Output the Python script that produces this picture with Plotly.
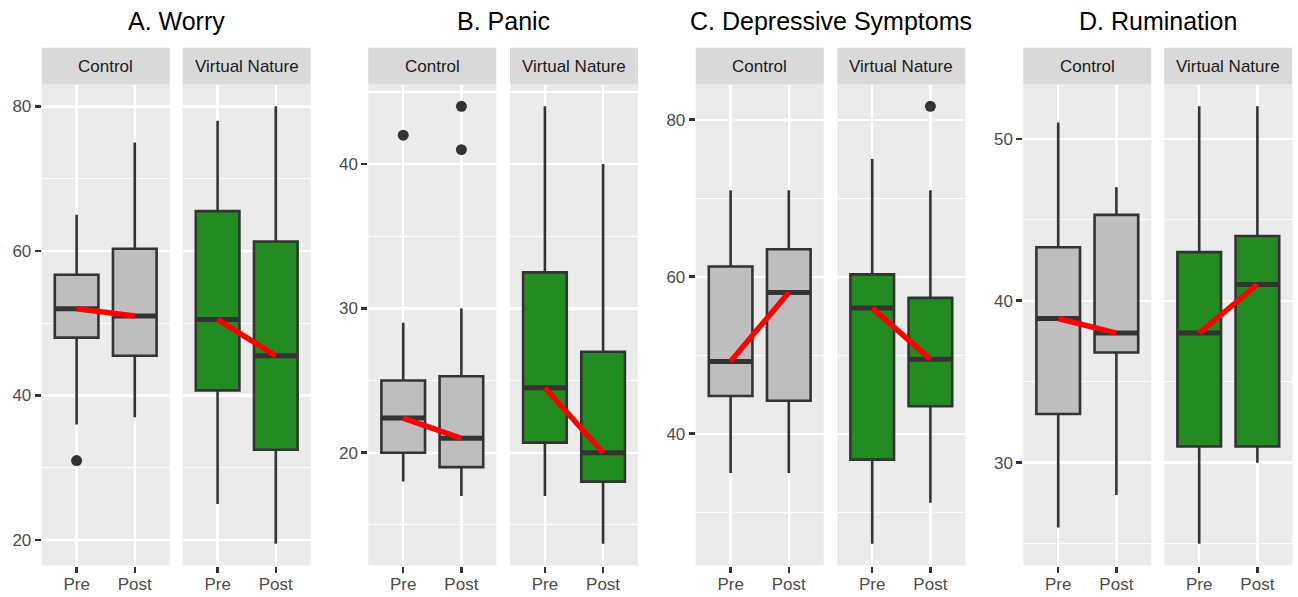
import plotly.graph_objects as go

# ---------------- data ----------------
panel_titles = ["A. Worry", "B. Panic", "C. Depressive Symptoms", "D. Rumination"]
groups = ["Control", "Virtual Nature"]
times = ["Pre", "Post"]

# per panel, per group: [Pre, Post]
worry_lower = {"Control": [36, 37], "Virtual Nature": [25, 19.5]}
worry_q1 = {"Control": [48, 45.5], "Virtual Nature": [40.7, 32.5]}
worry_med = {"Control": [52, 51], "Virtual Nature": [50.5, 45.5]}
worry_q3 = {"Control": [56.7, 60.3], "Virtual Nature": [65.5, 61.3]}
worry_upper = {"Control": [65, 75], "Virtual Nature": [78, 80]}
worry_out = {"Control": [[31], []], "Virtual Nature": [[], []]}

panic_lower = {"Control": [18, 17], "Virtual Nature": [17, 13.7]}
panic_q1 = {"Control": [20, 19], "Virtual Nature": [20.7, 18]}
panic_med = {"Control": [22.4, 21], "Virtual Nature": [24.5, 20]}
panic_q3 = {"Control": [25, 25.3], "Virtual Nature": [32.5, 27]}
panic_upper = {"Control": [29, 30], "Virtual Nature": [44, 40]}
panic_out = {"Control": [[42], [44, 41]], "Virtual Nature": [[], []]}

dep_lower = {"Control": [35, 35], "Virtual Nature": [26, 31.2]}
dep_q1 = {"Control": [44.8, 44.2], "Virtual Nature": [36.7, 43.5]}
dep_med = {"Control": [49.2, 58], "Virtual Nature": [56, 49.5]}
dep_q3 = {"Control": [61.3, 63.5], "Virtual Nature": [60.3, 57.3]}
dep_upper = {"Control": [71, 71], "Virtual Nature": [75, 71]}
dep_out = {"Control": [[], []], "Virtual Nature": [[], [81.7]]}

rum_lower = {"Control": [26, 28], "Virtual Nature": [25, 30]}
rum_q1 = {"Control": [33, 36.8], "Virtual Nature": [31, 31]}
rum_med = {"Control": [38.9, 38], "Virtual Nature": [38, 41]}
rum_q3 = {"Control": [43.3, 45.3], "Virtual Nature": [43, 44]}
rum_upper = {"Control": [51, 47], "Virtual Nature": [52, 52]}
rum_out = {"Control": [[], []], "Virtual Nature": [[], []]}

y_major = [20, 10, 20, 10]
y_minor = [10, 5, 10, 5]

panels = [
    (worry_lower, worry_q1, worry_med, worry_q3, worry_upper, worry_out),
    (panic_lower, panic_q1, panic_med, panic_q3, panic_upper, panic_out),
    (dep_lower, dep_q1, dep_med, dep_q3, dep_upper, dep_out),
    (rum_lower, rum_q1, rum_med, rum_q3, rum_upper, rum_out),
]

# ---------------- styling / layout (pixels) ----------------
W, H = 1298, 597
fills = {"Control": "#BEBEBE", "Virtual Nature": "#228B22"}
DARK = "#333333"
BOXW = 0.75
FONT = "Liberation Sans, Arial, sans-serif"

facet_left = [[41.7, 182.7], [368.3, 510.0], [695.7, 837.3], [1023.3, 1164.3]]
FACET_W = 128.0
PLOT_TOP, PLOT_BOT = 84.5, 565.5
STRIP_TOP = 47.7


def fx(px):
    return px / W


def fy(py):
    return 1 - py / H


fig = go.Figure()
layout = dict(
    width=W, height=H, margin=dict(l=0, r=0, t=0, b=0),
    paper_bgcolor="white", plot_bgcolor="#EBEBEB", showlegend=False,
    font=dict(family=FONT, color="#4D4D4D", size=17),
)
shapes = []
annotations = []

axis_n = 0
for p, (lo, q1, med, q3, up, outl) in enumerate(panels):
    # y range from data with 5% expansion
    vals = []
    for g in groups:
        vals += lo[g] + up[g]
        for o in outl[g]:
            vals += o
    vmin, vmax = min(vals), max(vals)
    pad = 0.05 * (vmax - vmin)
    yr = [vmin - pad, vmax + pad]

    for gi, g in enumerate(groups):
        axis_n += 1
        xa = "x" if axis_n == 1 else f"x{axis_n}"
        ya = "y" if axis_n == 1 else f"y{axis_n}"
        xk = "xaxis" if axis_n == 1 else f"xaxis{axis_n}"
        yk = "yaxis" if axis_n == 1 else f"yaxis{axis_n}"
        left = facet_left[p][gi]
        dom_x = [fx(left), fx(left + FACET_W)]
        dom_y = [fy(PLOT_BOT), fy(PLOT_TOP)]
        layout[xk] = dict(
            domain=dom_x, anchor=ya, range=[-0.6, 1.6],
            tickvals=list(range(len(times))), ticktext=times,
            showgrid=True, gridcolor="white", gridwidth=2.4, zeroline=False,
            ticks="outside", ticklen=6, tickwidth=2.5, tickcolor=DARK,
            ticklabelstandoff=-3,
            tickfont=dict(size=17, color="#4D4D4D", family=FONT),
            showline=False, fixedrange=True,
        )
        layout[yk] = dict(
            domain=dom_y, anchor=xa, range=yr, dtick=y_major[p], tick0=0,
            showgrid=True, gridcolor="white", gridwidth=2.4, zeroline=False,
            minor=dict(dtick=y_minor[p], tick0=0, showgrid=True, gridcolor="white", gridwidth=1.2),
            showticklabels=(gi == 0),
            ticks="outside" if gi == 0 else "", ticklen=6, tickwidth=2.5, tickcolor=DARK,
            tickfont=dict(size=17, color="#4D4D4D", family=FONT),
            showline=False, fixedrange=True,
        )

        xs = list(range(len(times)))
        fig.add_trace(go.Box(
            x=xs, q1=q1[g], median=med[g], q3=q3[g],
            lowerfence=lo[g], upperfence=up[g],
            width=BOXW, whiskerwidth=0, fillcolor=fills[g],
            line=dict(color=DARK, width=2.6), boxpoints=False,
            hoverinfo="skip", xaxis=xa, yaxis=ya,
        ))
        # thicker median lines
        for i, m in enumerate(med[g]):
            fig.add_trace(go.Scatter(
                x=[xs[i] - BOXW / 2, xs[i] + BOXW / 2], y=[m, m], mode="lines",
                line=dict(color=DARK, width=5), hoverinfo="skip", xaxis=xa, yaxis=ya,
            ))
        # outliers
        ox, oy = [], []
        for i, olist in enumerate(outl[g]):
            for o in olist:
                ox.append(xs[i])
                oy.append(o)
        if ox:
            fig.add_trace(go.Scatter(
                x=ox, y=oy, mode="markers",
                marker=dict(color=DARK, size=11), hoverinfo="skip", xaxis=xa, yaxis=ya,
            ))
        # red line connecting medians
        fig.add_trace(go.Scatter(
            x=xs, y=med[g], mode="lines", line=dict(color="#FF0000", width=5.5),
            hoverinfo="skip", xaxis=xa, yaxis=ya,
        ))

        # strip
        shapes.append(dict(
            type="rect", xref="paper", yref="paper",
            x0=dom_x[0], x1=dom_x[1], y0=fy(PLOT_TOP), y1=fy(STRIP_TOP),
            fillcolor="#D9D9D9", line=dict(width=0), layer="below",
        ))
        annotations.append(dict(
            text=g, xref="paper", yref="paper", x=(dom_x[0] + dom_x[1]) / 2,
            y=fy((PLOT_TOP + STRIP_TOP) / 2), showarrow=False,
            xanchor="center", yanchor="middle",
            font=dict(size=17, color="#1A1A1A", family=FONT),
        ))

    # panel title
    cx = (facet_left[p][0] + facet_left[p][1] + FACET_W) / 2
    annotations.append(dict(
        text=panel_titles[p], xref="paper", yref="paper", x=fx(cx), y=fy(21),
        showarrow=False, xanchor="center", yanchor="middle",
        font=dict(size=25, color="black", family=FONT),
    ))

layout["shapes"] = shapes
layout["annotations"] = annotations
fig.update_layout(**layout)
fig.write_html(
    "out.html",
    config={"displayModeBar": False, "staticPlot": True},
    post_script="document.body.style.margin='0px';document.body.style.overflow='hidden';",
)
